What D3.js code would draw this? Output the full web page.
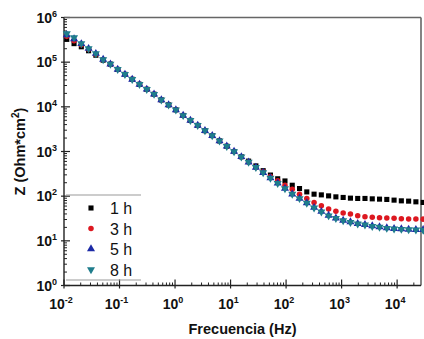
<!DOCTYPE html>
<html>
<head>
<meta charset="utf-8">
<script src="https://cdn.jsdelivr.net/npm/d3@7"></script>
<style>
  body { margin: 0; background: #fff; }
  svg { display: block; font-family: "Liberation Sans", Arial, sans-serif; }
</style>
</head>
<body>
<svg width="424" height="339"></svg>
<script>
// frequencies (Hz)
var freq = [0.01122, 0.01517, 0.02051, 0.02773, 0.0375, 0.0507, 0.06855, 0.09268, 0.1253, 0.1694,
  0.2291, 0.3097, 0.4188, 0.5662, 0.7656, 1.035, 1.4, 1.892, 2.559, 3.459,
  4.677, 6.324, 8.551, 11.56, 15.63, 21.13, 28.58, 38.64, 52.24, 70.63,
  95.5, 129.1, 174.6, 236, 319.2, 431.5, 583.4, 788.8, 1067, 1442,
  1950, 2636, 3565, 4819, 6516, 8810, 11910, 16110, 21780, 29440];

var z1h = [324000, 260000, 221000, 180000, 143000, 110800, 90300, 68800, 53300, 41300,
  31900, 24700, 19150, 14300, 11080, 8580, 6410, 4960, 3840, 2930,
  2270, 1730, 1312, 1000, 762, 609, 476, 372, 297, 245,
  219, 175.5, 148.3, 124.6, 110.8, 106.9, 101.5, 96.5, 93.6, 90.3,
  88.9, 88.9, 87.1, 85.8, 84.5, 81.5, 78.6, 77.4, 74.7, 72.4];

var z3h = [378000, 300000, 245000, 194500, 150600, 114800, 90300, 68800, 53300, 41300,
  31900, 24700, 19150, 14300, 11080, 8580, 6410, 4960, 3840, 2930,
  2270, 1730, 1312, 1000, 762, 578, 441, 354, 275, 221,
  175.5, 143, 110.8, 88.9, 72.4, 60.9, 51.4, 45.7, 41.9, 39.8,
  36.5, 34.7, 33.6, 32.9, 32.4, 31.9, 31.3, 30.8, 30.8, 30.6];

var z5h = [408000, 333000, 258000, 202000, 156000, 114800, 90300, 68800, 53300, 41300,
  31900, 24700, 19150, 14300, 11080, 8580, 6410, 4960, 3840, 2930,
  2270, 1730, 1312, 1000, 762, 578, 441, 336, 255, 194.5,
  148.3, 111.5, 89.5, 70.5, 55.6, 45.3, 37, 32.3, 28.7, 26.4,
  24.2, 23, 21.5, 20.5, 19.4, 18.8, 18.4, 18, 17.8, 17.7];

var z8h = [434000, 354000, 260000, 202000, 156000, 114800, 90300, 68800, 53300, 41300,
  31900, 24700, 19150, 14300, 11080, 8580, 6410, 4960, 3840, 2930,
  2270, 1730, 1312, 1000, 762, 578, 441, 336, 255, 194.5,
  148.3, 110.8, 88.9, 69.9, 55, 44.8, 36.5, 31.9, 28.3, 26,
  23.9, 22.7, 21.2, 20.2, 19.15, 18.5, 18.2, 17.8, 17.6, 17.4];

var seriesNames = ["1 h", "3 h", "5 h", "8 h"];
var seriesValues = [z1h, z3h, z5h, z8h];
var seriesColors = ["#000000", "#dd1820", "#1c2aa6", "#1f7d8c"];
var seriesSymbols = ["square", "circle", "triangleUp", "triangleDown"];

var xTickExp = [-2, -1, 0, 1, 2, 3, 4];
var yTickExp = [0, 1, 2, 3, 4, 5, 6];

var svg = d3.select("svg"),
  margin = { top: 17.5, left: 64, right: 3, bottom: 53.5 },
  width = 424 - margin.left - margin.right,
  height = 339 - margin.top - margin.bottom;

var x = d3.scaleLog().domain([0.01, Math.pow(10, 4.43)]).range([margin.left, margin.left + width]);
var y = d3.scaleLog().domain([1, 1e6]).range([margin.top + height, margin.top]);

var g = svg.append("g");

// minor ticks
var xMinor = [], yMinor = [];
xTickExp.forEach(function(e) {
  for (var m = 2; m <= 9; m++) {
    var v = m * Math.pow(10, e);
    if (v <= x.domain()[1]) xMinor.push(v);
  }
});
yTickExp.slice(0, -1).forEach(function(e) {
  for (var m = 2; m <= 9; m++) yMinor.push(m * Math.pow(10, e));
});

var axisColor = "#222";
var bottomY = margin.top + height;

g.selectAll(".xminor").data(xMinor).enter().append("line")
  .attr("x1", function(d) { return x(d); }).attr("x2", function(d) { return x(d); })
  .attr("y1", bottomY).attr("y2", bottomY - 3)
  .attr("stroke", axisColor).attr("stroke-width", 1);
g.selectAll(".xmajor").data(xTickExp).enter().append("line")
  .attr("x1", function(d) { return x(Math.pow(10, d)); }).attr("x2", function(d) { return x(Math.pow(10, d)); })
  .attr("y1", bottomY + 3).attr("y2", bottomY - 6)
  .attr("stroke", axisColor).attr("stroke-width", 1.2);

g.selectAll(".yminor").data(yMinor).enter().append("line")
  .attr("y1", function(d) { return y(d); }).attr("y2", function(d) { return y(d); })
  .attr("x1", margin.left).attr("x2", margin.left + 3)
  .attr("stroke", axisColor).attr("stroke-width", 1);
g.selectAll(".ymajor").data(yTickExp).enter().append("line")
  .attr("y1", function(d) { return y(Math.pow(10, d)); }).attr("y2", function(d) { return y(Math.pow(10, d)); })
  .attr("x1", margin.left - 3).attr("x2", margin.left + 6)
  .attr("stroke", axisColor).attr("stroke-width", 1.2);

// frame: top/right grey, left/bottom dark
g.append("line").attr("x1", margin.left).attr("x2", margin.left + width)
  .attr("y1", margin.top).attr("y2", margin.top).attr("stroke", "#666").attr("stroke-width", 1.6);
g.append("line").attr("x1", margin.left + width).attr("x2", margin.left + width)
  .attr("y1", margin.top).attr("y2", bottomY).attr("stroke", "#666").attr("stroke-width", 1.6);
g.append("line").attr("x1", margin.left).attr("x2", margin.left)
  .attr("y1", margin.top).attr("y2", bottomY).attr("stroke", axisColor).attr("stroke-width", 1.4);
g.append("line").attr("x1", margin.left).attr("x2", margin.left + width)
  .attr("y1", bottomY).attr("y2", bottomY).attr("stroke", axisColor).attr("stroke-width", 1.4);

// tick labels
function powLabel(sel, e) {
  sel.append("tspan").text("10");
  sel.append("tspan").attr("dy", -6).attr("font-size", 9).text(e);
}
xTickExp.forEach(function(e) {
  var t = g.append("text")
    .attr("x", x(Math.pow(10, e)) - (e < 0 ? 3 : 2))
    .attr("y", bottomY + 23)
    .attr("text-anchor", "middle")
    .attr("font-size", 14).attr("font-weight", "bold").attr("fill", "#111");
  powLabel(t, e);
});
yTickExp.forEach(function(e) {
  var t = g.append("text")
    .attr("x", margin.left - 7)
    .attr("y", y(Math.pow(10, e)) + 5)
    .attr("text-anchor", "end")
    .attr("font-size", 14).attr("font-weight", "bold").attr("fill", "#111");
  powLabel(t, e);
});

// axis titles
g.append("text")
  .attr("x", margin.left + width / 2).attr("y", 334)
  .attr("text-anchor", "middle").attr("font-size", 14.5).attr("font-weight", "bold")
  .attr("fill", "#111").text("Frecuencia (Hz)");
var yt = g.append("text")
  .attr("transform", "translate(25," + (margin.top + height / 2) + ") rotate(-90)")
  .attr("text-anchor", "middle").attr("font-size", 14.5).attr("font-weight", "bold").attr("fill", "#111");
yt.append("tspan").text("Z (Ohm*cm");
yt.append("tspan").attr("dy", -6).attr("font-size", 10).text("2");
yt.append("tspan").attr("dy", 6).text(")");

// markers
function symbolPath(kind) {
  if (kind === "square") return d3.symbol().type(d3.symbolSquare).size(26)();
  if (kind === "circle") return d3.symbol().type(d3.symbolCircle).size(24)();
  return d3.symbol().type(d3.symbolTriangle).size(28)();
}
function symbolTransform(kind, px, py) {
  return "translate(" + px + "," + py + ")" + (kind === "triangleDown" ? " rotate(180)" : "");
}

seriesValues.forEach(function(vals, s) {
  g.append("g").selectAll("path")
    .data(vals)
    .enter().append("path")
    .attr("d", symbolPath(seriesSymbols[s]))
    .attr("transform", function(d, i) { return symbolTransform(seriesSymbols[s], x(freq[i]), y(d)); })
    .attr("fill", seriesColors[s]);
});

// legend
var leg = g.append("g");
leg.append("line").attr("x1", 66).attr("x2", 141).attr("y1", 195).attr("y2", 195)
  .attr("stroke", "#999").attr("stroke-width", 1);
leg.append("line").attr("x1", 66).attr("x2", 141).attr("y1", 280).attr("y2", 280)
  .attr("stroke", "#999").attr("stroke-width", 1);
seriesNames.forEach(function(name, s) {
  var ly = 208 + s * 20.5;
  leg.append("path")
    .attr("d", symbolPath(seriesSymbols[s]))
    .attr("transform", symbolTransform(seriesSymbols[s], 91, ly))
    .attr("fill", seriesColors[s]);
  leg.append("text").attr("x", 110).attr("y", ly + 6)
    .attr("font-size", 16).attr("fill", "#111").text(name);
});
</script>
</body>
</html>
